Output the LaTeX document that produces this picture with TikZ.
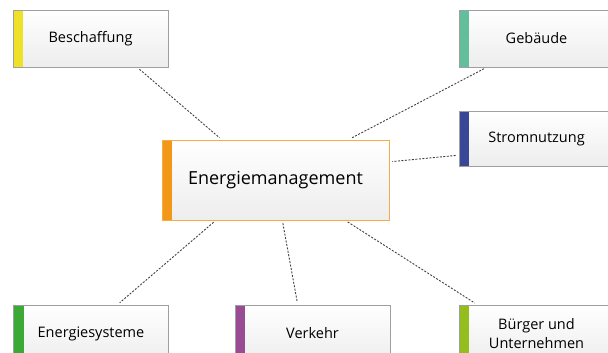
\documentclass[tikz,border=0pt]{standalone}
\usepackage{fontspec}
\setmainfont{Open Sans}
\usetikzlibrary{calc}

\definecolor{cgelb}{HTML}{EFE02A}
\definecolor{cteal}{HTML}{62BE9B}
\definecolor{cblau}{HTML}{3A4797}
\definecolor{corange}{HTML}{F29718}
\definecolor{cgruen}{HTML}{3BA936}
\definecolor{clila}{HTML}{994C93}
\definecolor{climette}{HTML}{93BE1E}

\tikzset{
    themebox/.style={draw=gray!75, line width=0.6pt, top color=white, bottom color=gray!14,
        minimum width=155pt, minimum height=57pt, align=center,
        font=\fontsize{14.5}{19}\selectfont, inner sep=0pt,
        path picture={\fill[#1] (path picture bounding box.south west) rectangle
            ([xshift=10pt]path picture bounding box.north west);}},
    link/.style={draw=black!75, line width=0.9pt, dash pattern=on 2pt off 1.5pt,
        shorten <=3pt, shorten >=3pt}
}

\begin{document}
\begin{tikzpicture}[x=1pt, y=-1pt]
    \useasboundingbox (0,0) rectangle (608,353);
    \node[themebox=corange, draw=corange!80, minimum width=227pt, minimum height=80pt,
        font=\fontsize{18}{22}\selectfont] (energie) at (275.5,180) {Energiemanagement};
    \node[themebox=cgelb] (beschaffung) at (90.5,38.5) {Beschaffung};
    \node[themebox=cteal] (gebaeude) at (536.5,38.5) {Gebäude};
    \node[themebox=cblau, minimum height=55pt] (strom) at (536.5,138.5) {Stromnutzung};
    \node[themebox=cgruen] (systeme) at (91,333.5) {Energiesysteme};
    \node[themebox=clila] (verkehr) at (312.5,333.5) {Verkehr};
    \node[themebox=climette] (buerger) at (536.5,333.5) {Bürger und\\Unternehmen};

    \draw[link] ($(beschaffung.south west)!0.8!(beschaffung.south east)$) -- ($(energie.north west)!0.264!(energie.north east)$);
    \draw[link] ($(gebaeude.south west)!0.18!(gebaeude.south east)$) -- ($(energie.north west)!0.82!(energie.north east)$);
    \draw[link] ($(strom.north west)!0.8!(strom.south west)$) -- ($(energie.north east)!0.275!(energie.south east)$);
    \draw[link] ($(energie.south west)!0.238!(energie.south east)$) -- ($(systeme.north west)!0.67!(systeme.north east)$);
    \draw[link] ($(energie.south west)!0.53!(energie.south east)$) -- ($(verkehr.north west)!0.405!(verkehr.north east)$);
    \draw[link] ($(energie.south west)!0.806!(energie.south east)$) -- ($(buerger.north west)!0.12!(buerger.north east)$);
\end{tikzpicture}
\end{document}
